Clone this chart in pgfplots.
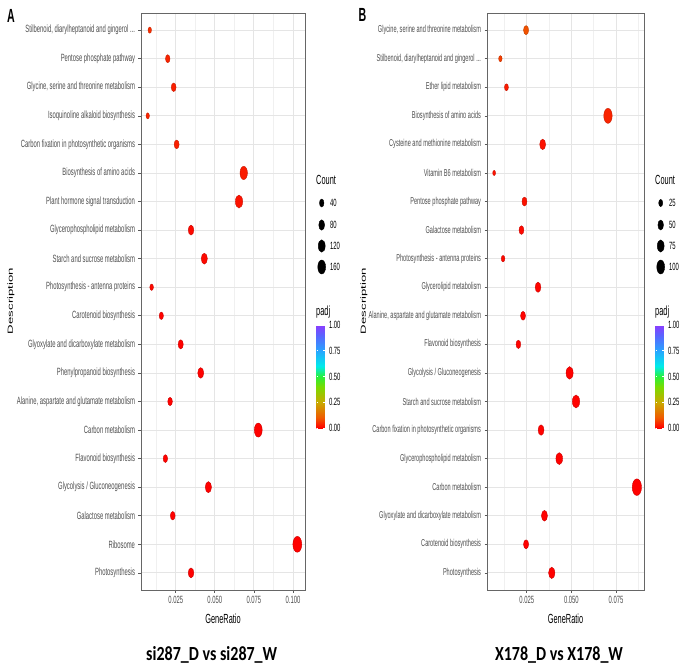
\documentclass[border=0pt]{standalone}
\usepackage{fontspec}
\setmainfont{Liberation Sans}
\newfontfamily\ggf[FakeStretch=0.56]{Liberation Sans}
\newfontfamily\ttlf[FakeStretch=0.8]{Carlito}
\usepackage{pgfplots}
\usepackage{pgfplotstable}
\pgfplotsset{compat=1.18}
\definecolor{g30}{RGB}{77,77,77}
\newcommand\axtxt{\ggf\fontsize{10.5bp}{12bp}\selectfont}
\newcommand\axtxtB{\ggf\fontsize{10bp}{12bp}\selectfont}
\newcommand\ttxt{\ggf\fontsize{13.2bp}{15bp}\selectfont}
\newcommand\dotsthree{.\kern0pt.\kern0pt.}
\pgfplotsset{colormap={padj}{rgb255(0cm)=(255,0,0) rgb255(2cm)=(240,90,0) rgb255(5cm)=(200,170,0) rgb255(8cm)=(120,220,0) rgb255(10cm)=(40,240,60) rgb255(12cm)=(0,235,235) rgb255(15cm)=(40,165,255) rgb255(18cm)=(90,100,255) rgb255(20cm)=(140,60,255)}}

\pgfplotstableread{
idx ratio count padj
1  0.0084 17  0.05
2  0.0199 41  0.04
3  0.0237 49  0.035
4  0.0071 15  0.04
5  0.0256 53  0.035
6  0.0685 142 0.03
7  0.0655 136 0.02
8  0.0348 72  0.01
9  0.0433 90  0.01
10 0.0096 20  0.01
11 0.0158 33  0.002
12 0.0282 59  0.002
13 0.0410 85  0.002
14 0.0214 45  0.002
15 0.0778 162 0.001
16 0.0184 38  0.002
17 0.0459 95  0.001
18 0.0231 48  0.002
19 0.1028 214 0.001
20 0.0348 72  0.001
}\tabA

\pgfplotstableread{
idx ratio count padj
1  0.0246 41  0.09
2  0.0102 17  0.07
3  0.0136 23  0.03
4  0.0705 117 0.04
5  0.0339 56  0.02
6  0.0067 11  0.02
7  0.0237 39  0.02
8  0.0220 37  0.01
9  0.0117 19  0.01
10 0.0313 52  0.005
11 0.0229 38  0.003
12 0.0203 34  0.003
13 0.0490 81  0.002
14 0.0526 87  0.002
15 0.0330 55  0.002
16 0.0432 72  0.001
17 0.0867 144 0.001
18 0.0349 58  0.002
19 0.0246 41  0.002
20 0.0390 65  0.001
}\tabB

\pgfplotsset{
  ggdot/.style={
    anchor=south west, scale only axis, height=577bp,
    ymin=0.4, ymax=20.6, y dir=reverse,
    ytick={1,2,3,4,5,6,7,8,9,10,11,12,13,14,15,16,17,18,19,20},
    minor xtick={0.0125,0.0375,0.0625,0.0875},
    scaled x ticks=false,
    xmajorgrids, xminorgrids, ymajorgrids,
    major grid style={color=black!10, line width=0.8bp},
    minor grid style={color=black!6, line width=0.5bp},
    tick align=outside, tick pos=left,
    major tick length=2.5bp, minor tick length=0pt,
    axis line style={draw=black!60, line width=1bp},
    tick style={black!65, line width=0.6bp},
    tick label style={font=\axtxt, text=g30},
    point meta min=0, point meta max=1, colormap name=padj,
    colorbar,
    colorbar style={
      at={(parent axis.south east)}, anchor=south west,
      xshift=3bp, yshift=162bp,
      scale only axis, width=8bp, height=103bp,
      ytick={0,0.25,0.5,0.75,1},
      yticklabels={0.00,0.25,0.50,0.75,1.00},
      yticklabel style={font=\axtxt, text=black, xshift=1bp},
      axis line style={draw=none},
      major tick length=1.8bp, tick align=inside,
      ytick pos=both, yticklabel pos=right,
      ytick style={white, line width=0.6bp},
    },
  },
  ggscat/.style={
    scatter, only marks, mark=*, point meta=explicit,
    mark options={xscale=0.56},
    visualization depends on={\thisrow{count}\as\cnt},
  },
}

\begin{document}
\begin{tikzpicture}
\useasboundingbox (0,0) rectangle (685bp,-672bp);

% ---------------- Panel A ----------------
\begin{axis}[ggdot,
  at={(141bp,-590bp)}, width=164bp,
  xmin=0.0028, xmax=0.1077,
  xtick={0.025,0.05,0.075,0.1}, xticklabels={0.025,0.050,0.075,0.100},
  yticklabels={{Stilbenoid, diarylheptanoid and gingerol \dotsthree},{Pentose phosphate pathway},{Glycine, serine and threonine metabolism},{Isoquinoline alkaloid biosynthesis},{Carbon fixation in photosynthetic organisms},{Biosynthesis of amino acids},{Plant hormone signal transduction},{Glycerophospholipid metabolism},{Starch and sucrose metabolism},{Photosynthesis - antenna proteins},{Carotenoid biosynthesis},{Glyoxylate and dicarboxylate metabolism},{Phenylpropanoid biosynthesis},{Alanine, aspartate and glutamate metabolism},{Carbon metabolism},{Flavonoid biosynthesis},{Glycolysis / Gluconeogenesis},{Galactose metabolism},{Ribosome},{Photosynthesis}},
]
\addplot[ggscat, scatter/@pre marker code/.append style={/tikz/mark size={0.5*sqrt(20+1.1*\cnt)}}]
  table[x=ratio, y=idx, meta=padj] {\tabA};
\end{axis}

% ---------------- Panel B ----------------
\begin{axis}[ggdot,
  at={(487bp,-590bp)}, width=157bp,
  xmin=0.0027, xmax=0.0907,
  xtick={0.025,0.05,0.075}, xticklabels={0.025,0.050,0.075},
  yticklabel style={font=\axtxtB},
  yticklabels={{Glycine, serine and threonine metabolism},{Stilbenoid, diarylheptanoid and gingerol \dotsthree},{Ether lipid metabolism},{Biosynthesis of amino acids},{Cysteine and methionine metabolism},{Vitamin B6 metabolism},{Pentose phosphate pathway},{Galactose metabolism},{Photosynthesis - antenna proteins},{Glycerolipid metabolism},{Alanine, aspartate and glutamate metabolism},{Flavonoid biosynthesis},{Glycolysis / Gluconeogenesis},{Starch and sucrose metabolism},{Carbon fixation in photosynthetic organisms},{Glycerophospholipid metabolism},{Carbon metabolism},{Glyoxylate and dicarboxylate metabolism},{Carotenoid biosynthesis},{Photosynthesis}},
]
\addplot[ggscat, scatter/@pre marker code/.append style={/tikz/mark size={0.5*sqrt(5.5+1.9*\cnt)}}]
  table[x=ratio, y=idx, meta=padj] {\tabB};
\end{axis}

% ---------------- Size legends (overlay axis in pixel units) ----------------
\begin{axis}[at={(0bp,-672bp)}, anchor=south west, scale only axis,
  width=685bp, height=672bp, hide axis, clip=false,
  xmin=0, xmax=685, ymin=0, ymax=672, y dir=reverse]
\addplot[only marks, mark=*, black, mark size=4bp,   mark options={xscale=0.56}] coordinates {(321.7,203)};
\addplot[only marks, mark=*, black, mark size=5.2bp, mark options={xscale=0.56}] coordinates {(321.7,225)};
\addplot[only marks, mark=*, black, mark size=6.2bp, mark options={xscale=0.56}] coordinates {(321.7,246)};
\addplot[only marks, mark=*, black, mark size=7bp,   mark options={xscale=0.56}] coordinates {(321.7,267)};
\addplot[only marks, mark=*, black, mark size=3.6bp, mark options={xscale=0.56}] coordinates {(660.7,203)};
\addplot[only marks, mark=*, black, mark size=5bp,   mark options={xscale=0.56}] coordinates {(660.7,225)};
\addplot[only marks, mark=*, black, mark size=6.1bp, mark options={xscale=0.56}] coordinates {(660.7,246)};
\addplot[only marks, mark=*, black, mark size=7bp,   mark options={xscale=0.56}] coordinates {(660.7,267)};
\end{axis}

% ---------------- Texts ----------------
\begin{scope}[every node/.style={inner sep=0pt}]
% legend A
\node[anchor=west, font=\ttxt] at (316bp,-180bp) {Count};
\node[anchor=west, font=\axtxt] at (330bp,-203bp) {40};
\node[anchor=west, font=\axtxt] at (330bp,-225bp) {80};
\node[anchor=west, font=\axtxt] at (330bp,-246bp) {120};
\node[anchor=west, font=\axtxt] at (330bp,-267bp) {160};
\node[anchor=west, font=\ttxt] at (316bp,-312bp) {padj};
% legend B
\node[anchor=west, font=\ttxt] at (655bp,-180bp) {Count};
\node[anchor=west, font=\axtxt] at (669bp,-203bp) {25};
\node[anchor=west, font=\axtxt] at (669bp,-225bp) {50};
\node[anchor=west, font=\axtxt] at (669bp,-246bp) {75};
\node[anchor=west, font=\axtxt] at (669bp,-267bp) {100};
\node[anchor=west, font=\ttxt] at (655bp,-312bp) {padj};
% axis titles
\node[font=\ttxt] at (223bp,-619bp) {GeneRatio};
\node[font=\ttxt] at (565.5bp,-619bp) {GeneRatio};
\node[rotate=90, font=\fontsize{13.2bp}{15bp}\selectfont] at (11bp,-301bp) {\scalebox{1}[0.56]{Description}};
\node[rotate=90, font=\fontsize{13.2bp}{15bp}\selectfont] at (364bp,-301bp) {\scalebox{1}[0.56]{Description}};
% panel letters
\node[font=\ggf\bfseries\fontsize{19bp}{20bp}\selectfont] at (11bp,-15.5bp) {A};
\node[font=\ggf\bfseries\fontsize{19bp}{20bp}\selectfont] at (362.5bp,-15bp) {B};
% titles
\node[font=\ttlf\bfseries\fontsize{20bp}{22bp}\selectfont] at (211.7bp,-655bp) {si287\_D vs si287\_W};
\node[font=\ttlf\bfseries\fontsize{20bp}{22bp}\selectfont] at (559bp,-655bp) {X178\_D vs X178\_W};
\end{scope}
\end{tikzpicture}
\end{document}
